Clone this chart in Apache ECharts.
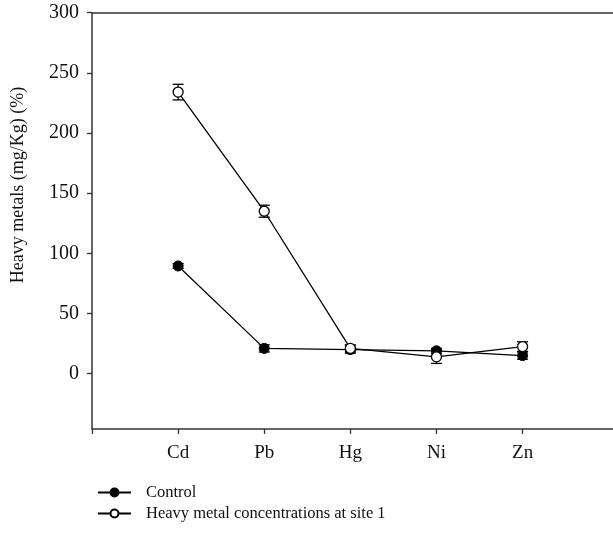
<!DOCTYPE html>
<html>
<head>
<meta charset="utf-8">
<script src="https://cdn.jsdelivr.net/npm/echarts@6/dist/echarts.min.js"></script>
<style>html,body{margin:0;padding:0;background:#fff}#c{width:613px;height:541px}</style>
</head>
<body>
<div id="c"></div>
<script>
var categories = ['Cd', 'Pb', 'Hg', 'Ni', 'Zn'];
var controlValues = [89.5, 21, 20, 19, 15];
var controlErrors = [2, 3, 3, 2, 3];
var siteValues = [234, 135, 21, 14, 22.5];
var siteErrors = [6.5, 5, 3, 5.5, 4];
var yTicks = [0, 50, 100, 150, 200, 250, 300];
var seriesNames = ['Control', 'Heavy metal concentrations at site 1'];

var FONT = 'Liberation Serif';
var chart = echarts.init(document.getElementById('c'));

function pts(vals) { return vals.map(function (v, i) { return [i + 1, v]; }); }
function errData(vals, errs) { return vals.map(function (v, i) { return [i + 1, v - errs[i], v + errs[i]]; }); }

function errRender(params, api) {
  var x = api.value(0);
  var lo = api.coord([x, api.value(1)]);
  var hi = api.coord([x, api.value(2)]);
  var w = 5.5;
  var st = { stroke: '#000', lineWidth: 1.3 };
  return {
    type: 'group',
    children: [
      { type: 'line', shape: { x1: lo[0], y1: lo[1], x2: hi[0], y2: hi[1] }, style: st },
      { type: 'line', shape: { x1: lo[0] - w, y1: lo[1], x2: lo[0] + w, y2: lo[1] }, style: st },
      { type: 'line', shape: { x1: hi[0] - w, y1: hi[1], x2: hi[0] + w, y2: hi[1] }, style: st }
    ]
  };
}

var option = {
  animation: false,
  grid: { left: 92, top: 12.7, right: 0, bottom: 112 },
  xAxis: [{
    type: 'value', min: 0, max: 6.05,
    axisLine: { show: true, onZero: false, lineStyle: { color: '#333', width: 1.5 } },
    axisTick: { show: true, inside: false, length: 5, lineStyle: { color: '#333', width: 1.3 }, customValues: [0, 1, 2, 3, 4, 5] },
    axisLabel: { customValues: [1, 2, 3, 4, 5], margin: 15, fontFamily: FONT, fontSize: 19, color: '#111',
      formatter: function (v) { return categories[Math.round(v) - 1] || ''; } },
    splitLine: { show: false }
  }, {
    type: 'value', min: 0, max: 6.05, position: 'top',
    axisLine: { show: true, onZero: false, lineStyle: { color: '#333', width: 1.5 } },
    axisTick: { show: false }, axisLabel: { show: false }, splitLine: { show: false }
  }],
  yAxis: {
    type: 'value', min: -46, max: 300,
    axisLine: { show: true, onZero: false, lineStyle: { color: '#333', width: 1.5 } },
    axisTick: { show: true, length: 5, lineStyle: { color: '#333', width: 1.3 }, customValues: yTicks },
    axisLabel: { customValues: yTicks, margin: 13, fontFamily: FONT, fontSize: 20, color: '#111' },
    splitLine: { show: false }
  },
  legend: {
    orient: 'vertical', left: 92, top: 479, itemWidth: 33, itemHeight: 10, itemGap: 4,
    data: seriesNames,
    textStyle: { fontFamily: FONT, fontSize: 16.5, color: '#111', padding: [0, 0, 0, 10] }
  },
  graphic: [{
    type: 'text', x: 18, y: 185, rotation: Math.PI / 2,
    style: { text: 'Heavy metals (mg/Kg) (%)', fontFamily: FONT, fontSize: 18, fill: '#111', align: 'center', verticalAlign: 'middle' }
  }],
  series: [
    { type: 'custom', renderItem: errRender, data: errData(controlValues, controlErrors), z: 1, silent: true },
    { type: 'custom', renderItem: errRender, data: errData(siteValues, siteErrors), z: 1, silent: true },
    { name: seriesNames[0], type: 'line', data: pts(controlValues), z: 3,
      symbol: 'circle', symbolSize: 10,
      lineStyle: { color: '#000', width: 1.3 },
      itemStyle: { color: '#000', borderColor: '#000', borderWidth: 1 } },
    { name: seriesNames[1], type: 'line', data: pts(siteValues), z: 3,
      symbol: 'circle', symbolSize: 10,
      lineStyle: { color: '#000', width: 1.3 },
      itemStyle: { color: '#fff', borderColor: '#000', borderWidth: 1.3 } }
  ]
};
chart.setOption(option);
</script>
</body>
</html>
